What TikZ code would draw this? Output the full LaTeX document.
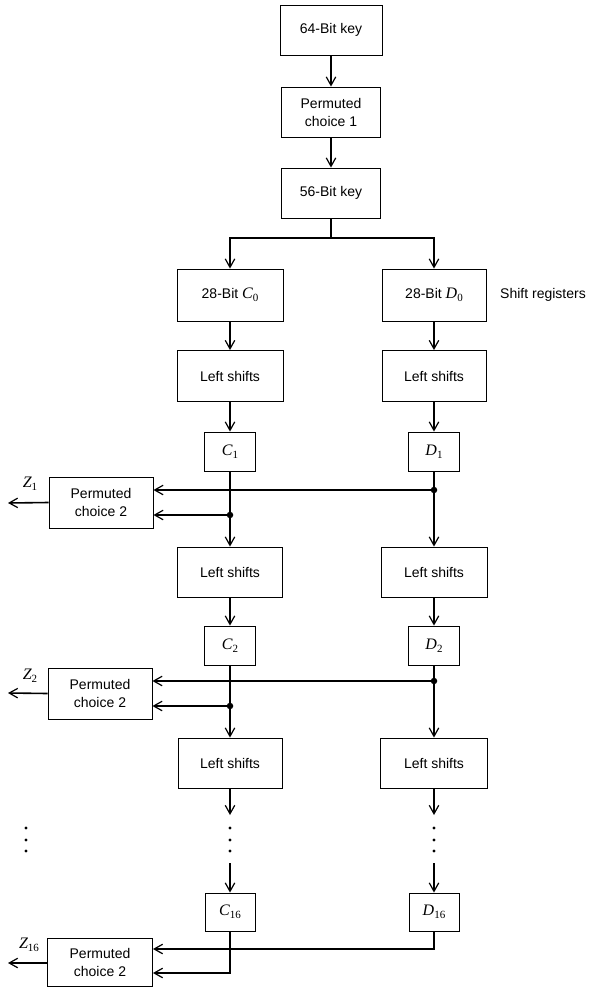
\documentclass[tikz,border=0pt]{standalone}
\usepackage{fontspec}
\setmainfont{Liberation Sans}
\newfontfamily\tnr{Liberation Serif}
\usetikzlibrary{arrows.meta}
\newcommand\vsub[2]{{\tnr\fontsize{16}{18}\selectfont\itshape #1}\raisebox{-0.45ex}{\tnr\fontsize{11}{11}\selectfont #2}}
\begin{document}
\begin{tikzpicture}[x=1pt,y=-1pt,
 box/.style={draw, line width=0.9pt, align=center, inner sep=0pt, font=\fontsize{14}{18}\selectfont},
 flow/.style={line width=1.6pt, -{Straight Barb[length=8.5pt,width=9.5pt,line width=1.2pt]}},
 wire/.style={line width=1.6pt},
 jdot/.style={circle, fill, inner sep=0pt, minimum size=6.5pt},
 edot/.style={circle, fill, inner sep=0pt, minimum size=3.2pt},
 lbl/.style={font=\fontsize{14}{18}\selectfont, inner sep=0pt}]
\useasboundingbox (0,0) rectangle (600,987);
% top chain
\node[box, minimum width=102pt, minimum height=50pt] (k64) at (331,30) {64-Bit key};
\node[box, minimum width=99pt, minimum height=50pt] (pc1) at (331,112) {Permuted\\choice 1};
\node[box, minimum width=99pt, minimum height=50pt] (k56) at (331,193) {56-Bit key};
\draw[flow] (k64.south) -- (pc1.north);
\draw[flow] (pc1.south) -- (k56.north);
% registers
\node[box, minimum width=106pt, minimum height=52pt] (c0) at (230,295) {28-Bit \vsub{C}{0}};
\node[box, minimum width=104pt, minimum height=52pt] (d0) at (434,295) {28-Bit \vsub{D}{0}};
\node[lbl, anchor=west] (sr) at (500,295) {Shift registers};
\coordinate (split) at (331,238);
\coordinate (sl) at (230,238);
\coordinate (srr) at (434,238);
\draw[wire] (k56.south) -- (split);
\draw[flow] (split) -- (sl) -- (c0.north);
\draw[flow] (split) -- (srr) -- (d0.north);
% round 1
\node[box, minimum width=106pt, minimum height=51pt] (ls1c) at (230,376) {Left shifts};
\node[box, minimum width=104pt, minimum height=51pt] (ls1d) at (434,376) {Left shifts};
\node[box, minimum width=51pt, minimum height=39pt] (c1) at (230,451.5) {\vsub{C}{1}};
\node[box, minimum width=51pt, minimum height=39pt] (d1) at (434,451.5) {\vsub{D}{1}};
\draw[flow] (c0.south) -- (ls1c.north);
\draw[flow] (d0.south) -- (ls1d.north);
\draw[flow] (ls1c.south) -- (c1.north);
\draw[flow] (ls1d.south) -- (d1.north);
\node[box, minimum width=104pt, minimum height=51pt] (pcA) at (101,502.5) {Permuted\\choice 2};
\node[jdot] (jAc) at (230,515) {};
\node[jdot] (jAd) at (434,490) {};
% round 2
\node[box, minimum width=105pt, minimum height=50pt] (ls2c) at (230,572) {Left shifts};
\node[box, minimum width=106pt, minimum height=50pt] (ls2d) at (434,572) {Left shifts};
\draw[flow] (c1.south) -- (ls2c.north);
\draw[flow] (d1.south) -- (ls2d.north);
\draw[flow] (jAc.center) -- (pcA.east |- jAc);
\draw[flow] (jAd.center) -- (pcA.east |- jAd);
\coordinate (zA) at (8,503);
\draw[flow] (pcA.west) -- (zA);
\node[lbl] (zAl) at (30,484) {\vsub{Z}{1}};
\node[box, minimum width=51pt, minimum height=39pt] (c2) at (230,645.5) {\vsub{C}{2}};
\node[box, minimum width=51pt, minimum height=39pt] (d2) at (434,645.5) {\vsub{D}{2}};
\draw[flow] (ls2c.south) -- (c2.north);
\draw[flow] (ls2d.south) -- (d2.north);
\node[box, minimum width=104pt, minimum height=51pt] (pcB) at (100,693.5) {Permuted\\choice 2};
\node[jdot] (jBc) at (230,706) {};
\node[jdot] (jBd) at (434,681) {};
% round 3
\node[box, minimum width=104pt, minimum height=50pt] (ls3c) at (230,763) {Left shifts};
\node[box, minimum width=107pt, minimum height=50pt] (ls3d) at (434,763) {Left shifts};
\draw[flow] (c2.south) -- (ls3c.north);
\draw[flow] (d2.south) -- (ls3d.north);
\draw[flow] (jBc.center) -- (pcB.east |- jBc);
\draw[flow] (jBd.center) -- (pcB.east |- jBd);
\coordinate (zB) at (8,693);
\draw[flow] (pcB.west) -- (zB);
\node[lbl] (zBl) at (30,676) {\vsub{Z}{2}};
% ellipses
\coordinate (ctip) at (230,815);
\coordinate (dtip) at (434,815);
\draw[flow] (ls3c.south) -- (ctip);
\draw[flow] (ls3d.south) -- (dtip);
\foreach \yy [count=\i] in {828,840,851} {
  \node[edot] (ce\i) at (230,\yy) {};
  \node[edot] (de\i) at (434,\yy) {};
  \node[edot] (le\i) at (26,\yy) {};
}
\coordinate (cres) at (230,863);
\coordinate (dres) at (434,863);
% round 16
\node[box, minimum width=50pt, minimum height=38pt] (c16) at (230,912) {\vsub{C}{16}};
\node[box, minimum width=50pt, minimum height=38pt] (d16) at (434,912) {\vsub{D}{16}};
\draw[flow] (cres) -- (c16.north);
\draw[flow] (dres) -- (d16.north);
\node[box, minimum width=105pt, minimum height=48pt] (pcC) at (100,962) {Permuted\\choice 2};
\coordinate (cC) at (230,973);
\coordinate (dC) at (434,949);
\draw[flow] (c16.south) -- (cC) -- (pcC.east |- cC);
\draw[flow] (d16.south) -- (dC) -- (pcC.east |- dC);
\coordinate (zC) at (8,963);
\draw[flow] (pcC.west |- zC) -- (zC);
\node[lbl] (zCl) at (29,945) {\vsub{Z}{16}};
\end{tikzpicture}
\end{document}
